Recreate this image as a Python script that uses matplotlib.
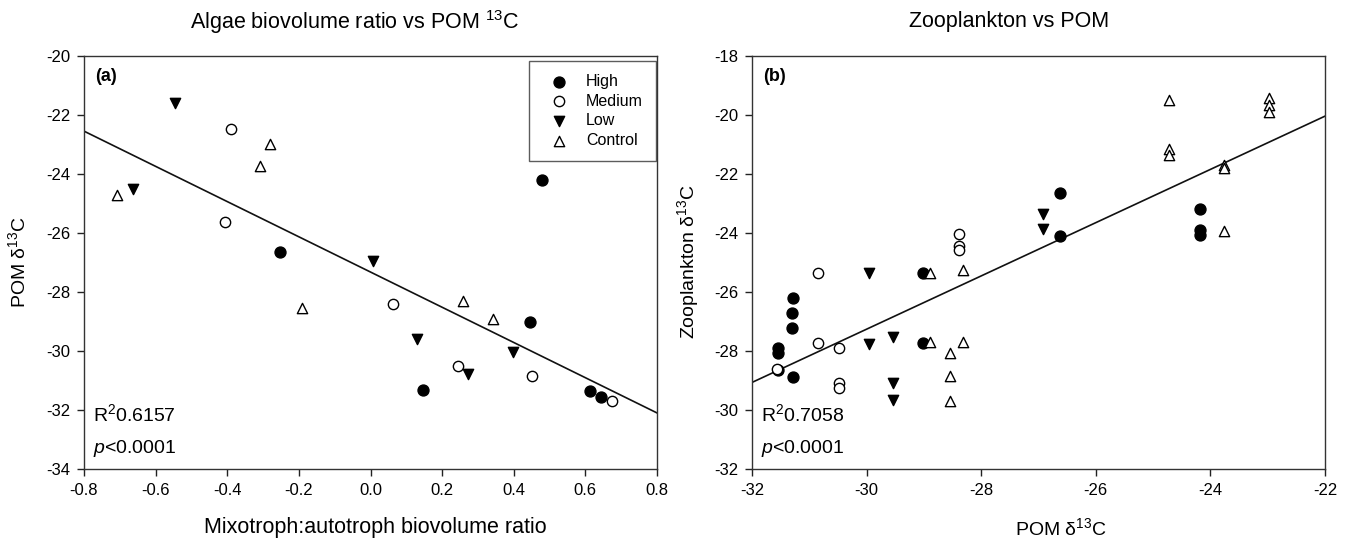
#librerias a utilizar
import numpy as np
import matplotlib
matplotlib.use("Agg")
import matplotlib.pyplot as plt

plt.rcParams['font.family'] = ['Liberation Sans', 'DejaVu Sans']
plt.rcParams['mathtext.fontset'] = 'custom'
plt.rcParams['mathtext.rm'] = 'Liberation Sans'
plt.rcParams['mathtext.it'] = 'Liberation Sans:italic'
plt.rcParams['mathtext.bf'] = 'Liberation Sans:bold'

# ---- panel (a): razon de biovolumen vs POM d13C ----
high_x1 = [-0.253, 0.446, 0.478, 0.146, 0.613, 0.645]
high_y1 = [-26.63, -29.01, -24.19, -31.31, -31.34, -31.56]
medium_x1 = [-0.390, -0.405, 0.064, 0.243, 0.451, 0.673]
medium_y1 = [-22.49, -25.64, -28.41, -30.52, -30.85, -31.70]
low_x1 = [-0.546, -0.664, 0.008, 0.131, 0.399, 0.271]
low_y1 = [-21.59, -24.50, -26.96, -29.60, -30.02, -30.79]
control_x1 = [-0.280, -0.308, -0.707, -0.192, 0.258, 0.342]
control_y1 = [-22.97, -23.74, -24.70, -28.53, -28.30, -28.90]

# ---- panel (b): zooplancton vs POM ----
high_x2 = [-31.54, -31.54, -31.54, -31.29, -31.31, -31.31, -31.29, -29.02, -29.02,
           -26.62, -26.62, -24.19, -24.19, -24.19]
high_y2 = [-27.89, -28.06, -28.66, -28.87, -27.23, -26.70, -26.21, -25.34, -27.73,
           -22.65, -24.09, -23.18, -23.90, -24.08]
medium_x2 = [-28.39, -28.39, -28.39, -30.84, -30.84, -30.49, -30.49, -30.49, -31.57]
medium_y2 = [-24.03, -24.43, -24.58, -25.34, -27.72, -27.89, -29.08, -29.25, -28.62]
low_x2 = [-29.96, -29.96, -29.54, -29.54, -29.54, -26.92, -26.92]
low_y2 = [-25.34, -27.75, -27.51, -29.08, -29.65, -23.35, -23.86]
control_x2 = [-28.89, -28.31, -28.89, -28.31, -28.54, -28.54, -28.54, -24.73, -24.73,
              -24.73, -22.98, -22.98, -22.98, -23.76, -23.76, -23.76]
control_y2 = [-25.34, -25.26, -27.69, -27.68, -28.06, -28.85, -29.68, -19.50, -21.14,
              -21.37, -19.44, -19.67, -19.89, -21.68, -21.80, -23.94]

r2_textos = ["R$^2$0.6157", "R$^2$0.7058"]
xticks1 = [-0.8, -0.6, -0.4, -0.2, 0.0, 0.2, 0.4, 0.6, 0.8]
yticks1 = [-34, -32, -30, -28, -26, -24, -22, -20]
xticks2 = [-32, -30, -28, -26, -24, -22]
yticks2 = [-32, -30, -28, -26, -24, -22, -20, -18]

# estilos de cada grupo (nombre, marcador, relleno, tamaño)
estilos = [("High", "o", "black", 62), ("Medium", "o", "white", 55),
           ("Low", "v", "black", 55), ("Control", "^", "white", 55)]

W, H = 1349, 542
fig = plt.figure(figsize=(W / 100, H / 100), dpi=100)
ax1 = fig.add_axes([84 / W, 1 - 469 / H, 573 / W, 413 / H])
ax2 = fig.add_axes([752 / W, 1 - 469 / H, 573 / W, 413 / H])


def dibujar(ax, grupos, xlim, ylim, xticks, yticks, fmt):
    for (nombre, m, fc, s), (xs, ys) in zip(estilos, grupos):
        ax.scatter(xs, ys, marker=m, s=s, facecolors=fc, edgecolors='black',
                   linewidths=1.0, label=nombre, zorder=3)
    # recta de regresion sobre todos los puntos
    xa = np.concatenate([np.array(g[0]) for g in grupos])
    ya = np.concatenate([np.array(g[1]) for g in grupos])
    b, a = np.polyfit(xa, ya, 1)
    xl = np.array(xlim)
    ax.plot(xl, a + b * xl, color='#111111', linewidth=1.2, zorder=2)
    ax.set_xlim(xlim)
    ax.set_ylim(ylim)
    ax.set_xticks(xticks)
    ax.set_yticks(yticks)
    ax.set_xticklabels([fmt.format(v) for v in xticks])
    ax.set_yticklabels([str(v) for v in yticks])
    ax.tick_params(direction='out', length=5, width=1, labelsize=12, pad=5,
                   colors='#222222', labelcolor='black')
    for sp in ax.spines.values():
        sp.set_linewidth(1.0)
        sp.set_color('#333333')


dibujar(ax1, [(high_x1, high_y1), (medium_x1, medium_y1), (low_x1, low_y1),
              (control_x1, control_y1)],
        (-0.8, 0.8), (-34, -20), xticks1, yticks1, "{:.1f}")
dibujar(ax2, [(high_x2, high_y2), (medium_x2, medium_y2), (low_x2, low_y2),
              (control_x2, control_y2)],
        (-32, -22), (-32, -18), xticks2, yticks2, "{:d}")

# leyenda en el panel (a)
leg = ax1.legend(loc='upper right', bbox_to_anchor=(0.998, 0.988), borderaxespad=0,
                 fontsize=11.5, frameon=True, fancybox=False, labelspacing=0.3,
                 handletextpad=0.55, borderpad=0.8, handlelength=2.25)
leg.get_frame().set_edgecolor('#333333')
leg.get_frame().set_linewidth(1.0)

# etiquetas de panel y estadisticos
for ax, letra, r2 in [(ax1, "(a)", r2_textos[0]), (ax2, "(b)", r2_textos[1])]:
    ax.text(0.019, 0.972, letra, transform=ax.transAxes, fontsize=13,
            fontweight='bold', va='top', ha='left')
    ax.text(0.016, 0.115, r2, transform=ax.transAxes, fontsize=14, va='baseline')
    ax.text(0.016, 0.038, "$p$<0.0001", transform=ax.transAxes, fontsize=14,
            va='baseline')

# titulos y ejes
fig.text(355 / W, 1 - 22 / H, "Algae biovolume ratio vs POM $^{13}$C", fontsize=15.5,
         ha='center', va='center')
fig.text(1009 / W, 1 - 22 / H, "Zooplankton vs POM", fontsize=15.5,
         ha='center', va='center')
fig.text(375 / W, 1 - 528 / H, "Mixotroph:autotroph biovolume ratio", fontsize=15.5,
         ha='center', va='center')
fig.text(1061 / W, 1 - 528 / H, "POM δ$^{13}$C", fontsize=14, ha='center', va='center')
fig.text(18 / W, 1 - 262 / H, "POM δ$^{13}$C", fontsize=14, rotation=90,
         ha='center', va='center')
fig.text(688 / W, 1 - 262 / H, "Zooplankton δ$^{13}$C", fontsize=14, rotation=90,
         ha='center', va='center')

fig.savefig("out.png", dpi=100)
